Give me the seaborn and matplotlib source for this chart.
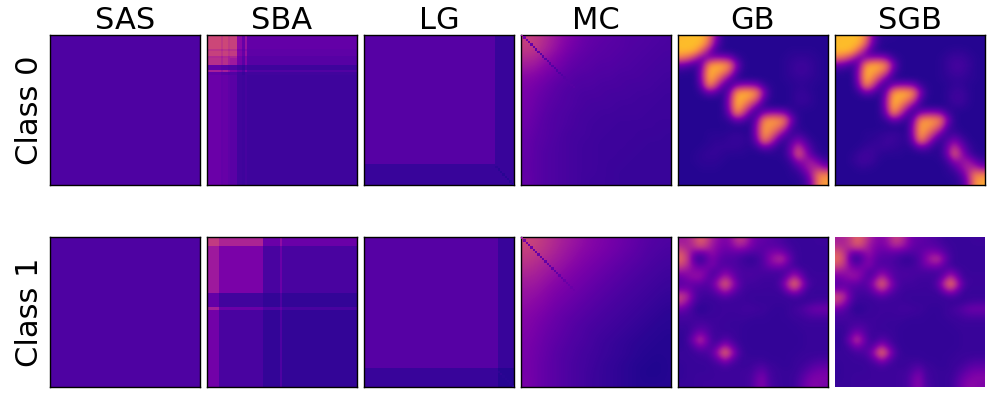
import numpy as np
import matplotlib
matplotlib.use("Agg")
import matplotlib.pyplot as plt
import seaborn as sns

METHODS = ["SAS", "SBA", "LG", "MC", "GB", "SGB"]
CLASSES = ["Class 0", "Class 1"]

SAS0 = [[13]]
SAS1 = [[13]]

# block panels: cell values (percent of colour scale) with row/column run lengths
SBA0_rows = [6, 1, 2, 1, 3, 2, 1, 1, 47]
SBA0_cols = [6, 1, 2, 1, 3, 2, 1, 1, 47]
SBA0 = [[50, 46, 50, 46, 48, 28, 19, 32, 18],
        [44, 40, 44, 40, 42, 24, 17, 28, 17],
        [48, 44, 48, 44, 46, 26, 19, 31, 17],
        [40, 36, 40, 36, 38, 22, 16, 25, 15],
        [42, 38, 42, 36, 34, 22, 16, 26, 15],
        [18, 16, 16, 14, 14, 10, 8, 13, 9],
        [36, 32, 36, 30, 24, 18, 13, 24, 14],
        [18, 16, 16, 14, 14, 10, 8, 11, 10],
        [20, 18, 19, 17, 16, 10, 9, 11, 9]]
SBA1_rows = [4, 20, 6, 1, 33]
SBA1_cols = [5, 19, 7, 1, 32]
SBA1 = [[46, 38, 20, 30, 20],
        [34, 24, 12, 20, 12],
        [18, 10, 7, 13, 7],
        [36, 20, 14, 18, 12],
        [22, 12, 7, 13, 7]]
LG0_rows = [55, 9]
LG0_cols = [56, 8]
LG0 = [[15, 8], [8, 8]]
LG0_diag = [None] * 56 + [6, 5, 5, 5, 5, 5, 5, 4]
LG1_rows = [56, 8]
LG1_cols = [57, 7]
LG1 = [[15, 8], [8, 4]]
LG1_diag = [None] * 57 + [6, 6, 5, 5, 5, 5, 5]

# smooth panels
MC0 = [[48, 46, 40, 34, 28, 24, 20, 18, 17, 16, 15, 14, 14, 13, 13, 12],
       [46, 44, 38, 32, 26, 22, 19, 17, 16, 15, 15, 14, 13, 13, 12, 12],
       [40, 38, 32, 27, 23, 19, 17, 16, 15, 15, 14, 13, 13, 12, 12, 11],
       [34, 32, 27, 24, 20, 17, 16, 15, 14, 14, 13, 13, 12, 12, 11, 11],
       [28, 26, 23, 20, 17, 15, 14, 14, 13, 13, 12, 12, 12, 11, 11, 10],
       [25, 23, 20, 17, 15, 14, 13, 13, 12, 12, 12, 11, 11, 11, 10, 10],
       [24, 21, 18, 16, 14, 13, 12, 12, 12, 11, 11, 11, 10, 10, 10, 9],
       [23, 20, 17, 15, 14, 13, 12, 11, 11, 11, 10, 10, 10, 10, 9, 9],
       [22, 19, 16, 14, 13, 12, 11, 11, 10, 10, 10, 10, 10, 9, 9, 9],
       [21, 18, 15, 14, 13, 12, 11, 10, 10, 10, 9, 9, 9, 9, 9, 9],
       [20, 17, 15, 14, 12, 11, 11, 10, 10, 9, 9, 9, 9, 9, 9, 8],
       [19, 16, 15, 13, 12, 11, 10, 10, 9, 9, 9, 9, 9, 8, 8, 8],
       [19, 16, 14, 13, 12, 11, 10, 10, 9, 9, 9, 9, 8, 8, 8, 8],
       [18, 16, 14, 13, 12, 11, 10, 10, 9, 9, 9, 8, 8, 8, 8, 8],
       [18, 16, 14, 13, 12, 11, 10, 10, 9, 9, 8, 8, 8, 8, 8, 8],
       [19, 16, 14, 13, 12, 11, 10, 9, 9, 9, 8, 8, 8, 8, 8, 8]]
MC0_diag = [32, 24, 22, 20, 19, 18, 17, 17, 16, 16, 16, 15, 15, 15, 14, 14,
            14, 14, 15, 15, 15, 15, 15]
MC1 = [[50, 48, 44, 40, 36, 33, 30, 27, 25, 23, 21, 19, 17, 15, 14, 13],
       [47, 45, 42, 38, 34, 31, 28, 26, 24, 22, 20, 18, 16, 14, 13, 12],
       [44, 42, 38, 35, 32, 29, 26, 24, 22, 20, 18, 16, 15, 13, 12, 11],
       [40, 38, 35, 32, 29, 26, 24, 22, 20, 18, 16, 15, 13, 12, 11, 10],
       [36, 35, 32, 29, 26, 24, 22, 20, 18, 16, 15, 13, 12, 11, 10, 9],
       [33, 32, 29, 26, 24, 22, 20, 18, 16, 15, 13, 12, 11, 10, 9, 8],
       [31, 29, 27, 24, 22, 20, 18, 16, 15, 13, 12, 11, 10, 9, 8, 7],
       [29, 27, 25, 22, 20, 18, 16, 15, 13, 12, 11, 10, 9, 8, 7, 6],
       [27, 25, 23, 20, 18, 16, 15, 13, 12, 11, 10, 9, 8, 7, 6, 5],
       [26, 24, 21, 19, 17, 15, 13, 12, 11, 10, 9, 8, 7, 6, 5, 5],
       [25, 23, 20, 18, 16, 14, 13, 11, 10, 9, 8, 7, 6, 5, 5, 4],
       [24, 22, 19, 17, 15, 13, 12, 11, 9, 8, 7, 6, 5, 5, 4, 4],
       [24, 21, 19, 16, 14, 13, 11, 10, 9, 8, 7, 6, 5, 4, 4, 4],
       [23, 21, 18, 16, 14, 12, 11, 10, 8, 7, 6, 5, 4, 4, 3, 4],
       [23, 21, 18, 16, 14, 12, 11, 9, 8, 7, 6, 5, 4, 3, 3, 4],
       [24, 21, 18, 16, 14, 12, 11, 9, 8, 7, 6, 5, 4, 4, 4, 4]]
MC1_diag = [34, 24, 22, 21, 20, 20, 19, 19, 18, 18, 18, 18, 18, 18, 18, 18,
            19, 19, 20, 20, 20, 20, 20]

GB0 = [[84, 86, 86, 84, 68, 28, 6, 4, 4, 4, 4, 4, 4, 4, 4, 4, 4, 4, 4, 4, 4, 4],
       [86, 86, 86, 82, 60, 20, 6, 4, 4, 4, 4, 4, 4, 4, 4, 4, 4, 4, 4, 4, 4, 4],
       [84, 85, 80, 58, 28, 9, 5, 4, 4, 4, 4, 4, 4, 4, 4, 4, 5, 5, 5, 5, 4, 4],
       [66, 58, 40, 20, 24, 30, 30, 26, 10, 5, 4, 4, 4, 4, 4, 5, 6, 7, 7, 6, 5, 4],
       [20, 16, 9, 22, 72, 82, 80, 70, 28, 6, 4, 4, 4, 4, 4, 5, 7, 9, 9, 7, 5, 4],
       [6, 5, 5, 30, 82, 80, 72, 54, 16, 5, 4, 4, 4, 4, 4, 5, 7, 9, 9, 7, 5, 4],
       [4, 4, 4, 30, 82, 70, 46, 20, 7, 4, 4, 4, 4, 4, 4, 5, 6, 7, 7, 6, 5, 4],
       [4, 4, 4, 22, 70, 48, 18, 8, 24, 30, 30, 26, 10, 5, 4, 4, 5, 6, 6, 5, 4, 4],
       [4, 4, 4, 8, 20, 16, 6, 22, 72, 82, 80, 70, 28, 6, 4, 4, 5, 7, 7, 5, 4, 4],
       [4, 4, 4, 4, 4, 4, 5, 30, 82, 80, 72, 54, 16, 5, 4, 4, 5, 8, 8, 6, 4, 4],
       [4, 4, 4, 4, 4, 4, 5, 30, 82, 70, 46, 20, 7, 4, 4, 4, 5, 6, 6, 5, 4, 4],
       [4, 4, 4, 4, 4, 4, 5, 22, 70, 48, 18, 8, 24, 30, 30, 26, 10, 5, 4, 4, 4, 4],
       [4, 4, 4, 4, 4, 4, 5, 8, 20, 16, 6, 22, 68, 76, 74, 66, 26, 6, 4, 4, 4, 4],
       [4, 4, 4, 4, 4, 4, 4, 4, 4, 4, 5, 30, 76, 74, 68, 50, 14, 6, 4, 4, 4, 4],
       [4, 4, 4, 4, 5, 5, 5, 6, 7, 6, 5, 30, 76, 66, 44, 20, 8, 10, 6, 4, 4, 4],
       [4, 4, 4, 4, 5, 6, 6, 7, 8, 7, 6, 22, 66, 46, 18, 7, 14, 24, 14, 6, 4, 4],
       [4, 4, 4, 5, 6, 7, 7, 7, 7, 6, 5, 8, 18, 15, 6, 6, 22, 45, 25, 10, 5, 4],
       [4, 4, 5, 6, 7, 7, 6, 5, 5, 5, 4, 4, 4, 5, 5, 6, 22, 58, 35, 15, 6, 5],
       [4, 4, 5, 6, 6, 6, 5, 4, 4, 4, 4, 4, 4, 4, 4, 5, 10, 30, 30, 34, 20, 10],
       [4, 4, 4, 5, 5, 5, 4, 4, 4, 4, 4, 4, 4, 4, 4, 4, 6, 12, 28, 38, 40, 28],
       [4, 4, 4, 4, 4, 4, 4, 4, 4, 4, 4, 4, 4, 4, 4, 4, 5, 6, 14, 36, 68, 70],
       [4, 4, 4, 4, 4, 4, 4, 4, 4, 4, 4, 4, 4, 4, 4, 4, 4, 5, 8, 28, 70, 78]]
SGB0 = [[84, 86, 86, 84, 68, 26, 7, 5, 5, 4, 4, 4, 4, 4, 4, 4, 4, 4, 4, 4, 4, 4],
        [86, 86, 86, 82, 58, 20, 6, 4, 4, 4, 4, 4, 4, 4, 4, 4, 4, 4, 4, 4, 4, 4],
        [84, 85, 80, 56, 28, 9, 5, 4, 4, 4, 4, 4, 4, 4, 4, 4, 5, 6, 6, 5, 4, 4],
        [64, 56, 40, 20, 24, 30, 32, 26, 10, 5, 4, 4, 4, 4, 4, 5, 7, 9, 9, 7, 5, 4],
        [20, 16, 9, 22, 72, 82, 80, 70, 28, 6, 4, 4, 4, 4, 4, 5, 8, 11, 11, 8, 5, 4],
        [6, 5, 5, 30, 82, 80, 72, 54, 16, 5, 4, 4, 4, 4, 4, 5, 7, 10, 10, 7, 5, 4],
        [4, 4, 4, 30, 82, 70, 46, 20, 7, 4, 4, 4, 4, 4, 4, 5, 6, 7, 7, 6, 5, 4],
        [4, 4, 4, 22, 70, 48, 18, 8, 24, 30, 30, 26, 10, 5, 4, 4, 5, 7, 7, 5, 4, 4],
        [4, 4, 4, 8, 20, 16, 6, 22, 72, 82, 80, 70, 28, 6, 4, 4, 6, 9, 9, 6, 4, 4],
        [4, 4, 4, 4, 4, 4, 5, 30, 82, 80, 72, 54, 16, 5, 4, 4, 6, 10, 10, 6, 4, 4],
        [4, 4, 4, 4, 4, 4, 5, 30, 82, 70, 46, 20, 7, 4, 4, 4, 5, 7, 7, 5, 4, 4],
        [4, 4, 4, 4, 4, 4, 5, 22, 70, 48, 18, 8, 24, 30, 30, 26, 10, 5, 4, 4, 4, 4],
        [4, 4, 4, 4, 4, 4, 5, 8, 20, 16, 6, 22, 70, 76, 74, 66, 26, 6, 4, 4, 4, 4],
        [4, 4, 4, 4, 4, 4, 4, 4, 4, 4, 5, 30, 78, 76, 68, 50, 14, 6, 4, 4, 4, 4],
        [4, 4, 4, 4, 5, 5, 6, 7, 8, 7, 5, 30, 78, 66, 44, 20, 8, 10, 6, 4, 4, 4],
        [4, 4, 4, 4, 5, 6, 7, 9, 9, 7, 6, 22, 68, 46, 18, 7, 14, 24, 14, 6, 4, 4],
        [4, 4, 4, 5, 7, 8, 8, 8, 7, 6, 5, 8, 18, 15, 6, 6, 22, 45, 25, 10, 5, 4],
        [4, 4, 5, 8, 10, 9, 6, 5, 5, 5, 4, 4, 4, 5, 5, 6, 22, 58, 35, 15, 6, 5],
        [4, 4, 6, 9, 10, 8, 5, 4, 4, 4, 4, 4, 4, 4, 4, 5, 10, 30, 30, 34, 20, 10],
        [4, 4, 4, 6, 6, 5, 4, 4, 4, 4, 4, 4, 4, 4, 4, 4, 6, 12, 28, 38, 40, 28],
        [4, 4, 4, 4, 4, 4, 4, 4, 4, 4, 4, 4, 4, 4, 4, 4, 5, 6, 14, 36, 68, 70],
        [4, 4, 4, 4, 4, 4, 4, 4, 4, 4, 4, 4, 4, 4, 4, 4, 4, 5, 8, 28, 72, 80]]

GB1 = [[34, 36, 44, 58, 50, 36, 28, 24, 30, 44, 42, 28, 20, 18, 16, 14, 12, 9, 8, 8, 8, 8, 9, 9],
       [40, 36, 42, 50, 44, 32, 26, 22, 26, 34, 32, 24, 18, 16, 16, 16, 14, 11, 9, 8, 8, 8, 8, 8],
       [54, 42, 24, 20, 24, 30, 22, 18, 18, 18, 16, 14, 14, 16, 22, 26, 24, 16, 10, 8, 8, 8, 8, 8],
       [60, 46, 16, 7, 16, 24, 18, 14, 14, 12, 9, 7, 9, 14, 26, 36, 40, 24, 11, 8, 8, 8, 8, 8],
       [50, 40, 24, 16, 20, 24, 16, 14, 14, 12, 10, 9, 10, 14, 22, 26, 26, 16, 10, 8, 8, 8, 8, 8],
       [32, 30, 28, 28, 24, 14, 16, 24, 18, 14, 12, 12, 12, 12, 12, 12, 12, 14, 22, 14, 9, 8, 8, 8],
       [20, 26, 30, 30, 20, 14, 26, 38, 28, 14, 12, 12, 11, 10, 10, 10, 12, 26, 40, 26, 10, 9, 9, 9],
       [16, 18, 18, 18, 14, 20, 38, 60, 38, 20, 11, 10, 10, 9, 9, 9, 18, 40, 66, 40, 16, 9, 9, 9],
       [26, 26, 16, 12, 12, 14, 26, 38, 26, 14, 10, 9, 9, 9, 9, 9, 11, 26, 38, 24, 10, 8, 8, 8],
       [48, 38, 18, 10, 9, 10, 12, 16, 12, 10, 9, 8, 8, 8, 8, 8, 8, 9, 12, 10, 8, 8, 8, 8],
       [40, 28, 14, 8, 8, 8, 9, 9, 9, 9, 9, 9, 8, 8, 8, 8, 8, 8, 8, 8, 9, 11, 12, 12],
       [22, 16, 9, 5, 7, 8, 9, 9, 9, 9, 10, 10, 10, 9, 8, 7, 7, 8, 10, 12, 16, 20, 21, 21],
       [12, 12, 10, 8, 8, 9, 9, 9, 9, 9, 9, 9, 8, 8, 7, 7, 7, 8, 9, 10, 12, 14, 14, 14],
       [10, 10, 10, 11, 10, 9, 9, 9, 8, 8, 8, 7, 7, 7, 7, 7, 7, 7, 8, 8, 9, 9, 9, 9],
       [8, 8, 12, 14, 14, 10, 9, 8, 8, 8, 7, 7, 7, 7, 7, 7, 7, 7, 7, 8, 8, 8, 8, 8],
       [7, 8, 16, 26, 18, 10, 9, 10, 9, 8, 7, 7, 7, 7, 7, 7, 7, 7, 7, 7, 8, 8, 8, 8],
       [6, 10, 24, 42, 26, 11, 10, 16, 12, 8, 7, 7, 7, 7, 7, 7, 7, 7, 7, 7, 8, 8, 8, 8],
       [7, 8, 14, 24, 18, 12, 22, 36, 22, 11, 7, 7, 7, 7, 7, 7, 7, 7, 7, 7, 8, 8, 8, 8],
       [8, 8, 9, 11, 12, 18, 38, 64, 38, 16, 8, 7, 7, 7, 7, 7, 7, 7, 7, 8, 8, 8, 8, 8],
       [8, 8, 8, 9, 9, 12, 22, 36, 22, 11, 8, 8, 8, 8, 7, 7, 7, 7, 8, 8, 9, 10, 11, 11],
       [7, 8, 8, 8, 8, 9, 10, 14, 10, 9, 8, 9, 11, 12, 9, 8, 7, 7, 8, 9, 11, 14, 16, 16],
       [7, 8, 8, 8, 8, 9, 9, 9, 9, 9, 10, 10, 15, 18, 11, 9, 8, 8, 8, 11, 15, 20, 22, 22],
       [7, 8, 8, 9, 9, 9, 9, 9, 9, 9, 10, 11, 19, 24, 12, 9, 8, 8, 9, 13, 20, 24, 25, 25],
       [8, 8, 8, 9, 9, 9, 9, 9, 9, 9, 10, 11, 20, 25, 13, 10, 8, 8, 9, 15, 22, 26, 25, 23]]
SGB1 = [[36, 38, 46, 60, 52, 38, 28, 26, 32, 46, 44, 30, 20, 18, 16, 14, 12, 9, 8, 8, 8, 8, 9, 9],
        [42, 38, 44, 52, 46, 32, 26, 22, 28, 36, 34, 26, 18, 16, 16, 16, 14, 11, 9, 8, 8, 8, 8, 8],
        [56, 44, 24, 20, 26, 32, 22, 18, 18, 18, 16, 14, 14, 16, 22, 26, 24, 16, 10, 8, 8, 8, 8, 8],
        [62, 48, 16, 7, 18, 26, 18, 14, 14, 12, 9, 7, 9, 14, 26, 38, 42, 24, 11, 8, 8, 8, 8, 8],
        [52, 42, 24, 16, 22, 26, 16, 14, 14, 12, 10, 9, 10, 14, 22, 26, 26, 16, 10, 8, 8, 8, 8, 8],
        [34, 32, 30, 28, 24, 14, 16, 24, 18, 14, 12, 12, 12, 12, 12, 12, 12, 14, 22, 14, 9, 8, 8, 8],
        [22, 26, 30, 30, 20, 14, 26, 40, 28, 14, 12, 12, 11, 10, 10, 10, 12, 26, 42, 26, 10, 9, 9, 9],
        [16, 18, 18, 18, 14, 20, 38, 62, 38, 20, 11, 10, 10, 9, 9, 9, 18, 42, 68, 40, 16, 9, 9, 9],
        [26, 26, 16, 12, 12, 14, 26, 38, 26, 14, 10, 9, 9, 9, 9, 9, 11, 26, 38, 24, 10, 8, 8, 8],
        [50, 40, 18, 10, 9, 10, 12, 16, 12, 10, 9, 8, 8, 8, 8, 8, 8, 9, 12, 10, 8, 8, 8, 8],
        [42, 30, 14, 8, 8, 8, 9, 9, 9, 9, 9, 9, 8, 8, 8, 8, 8, 8, 8, 8, 9, 11, 12, 12],
        [22, 16, 9, 5, 7, 8, 9, 9, 9, 9, 10, 10, 10, 9, 8, 7, 7, 8, 10, 12, 16, 20, 21, 21],
        [12, 12, 10, 8, 8, 9, 9, 9, 9, 9, 9, 9, 8, 8, 7, 7, 7, 8, 9, 10, 12, 14, 14, 14],
        [10, 10, 10, 11, 10, 9, 9, 9, 8, 8, 8, 7, 7, 7, 7, 7, 7, 7, 8, 8, 9, 9, 9, 9],
        [8, 8, 12, 14, 14, 10, 9, 8, 8, 8, 7, 7, 7, 7, 7, 7, 7, 7, 7, 8, 8, 8, 8, 8],
        [7, 8, 16, 28, 18, 10, 9, 10, 9, 8, 7, 7, 7, 7, 7, 7, 7, 7, 7, 7, 8, 8, 8, 8],
        [6, 10, 24, 44, 26, 11, 10, 16, 12, 8, 7, 7, 7, 7, 7, 7, 7, 7, 7, 7, 8, 8, 8, 8],
        [7, 8, 14, 24, 18, 12, 22, 36, 22, 11, 7, 7, 7, 7, 7, 7, 7, 7, 7, 7, 8, 8, 8, 8],
        [8, 8, 9, 11, 12, 18, 38, 66, 38, 16, 8, 7, 7, 7, 7, 7, 7, 7, 7, 8, 8, 8, 8, 8],
        [8, 8, 8, 9, 9, 12, 22, 36, 22, 11, 8, 8, 8, 8, 7, 7, 7, 7, 8, 8, 9, 10, 11, 11],
        [7, 8, 8, 8, 8, 9, 10, 14, 10, 9, 8, 9, 11, 12, 9, 8, 7, 7, 8, 9, 11, 14, 16, 16],
        [7, 8, 8, 8, 8, 9, 9, 9, 9, 9, 10, 10, 15, 20, 11, 9, 8, 8, 8, 11, 15, 20, 22, 22],
        [7, 8, 8, 9, 9, 9, 9, 9, 9, 9, 10, 11, 20, 26, 12, 9, 8, 8, 9, 13, 20, 24, 27, 27],
        [8, 8, 8, 9, 9, 9, 9, 9, 9, 9, 10, 11, 21, 27, 13, 10, 8, 8, 9, 15, 23, 28, 27, 25]]


def blocks(cells, rows, cols):
    return np.repeat(np.repeat(np.array(cells, float), rows, axis=0), cols, axis=1) / 100.0


PANELS = [
    [dict(data=blocks(SAS0, [64], [64])),
     dict(data=blocks(SBA0, SBA0_rows, SBA0_cols)),
     dict(data=blocks(LG0, LG0_rows, LG0_cols), diag=LG0_diag),
     dict(data=np.array(MC0) / 100.0, smooth=True, diag=MC0_diag),
     dict(data=np.array(GB0) / 100.0, smooth=True),
     dict(data=np.array(SGB0) / 100.0, smooth=True)],
    [dict(data=blocks(SAS1, [64], [64])),
     dict(data=blocks(SBA1, SBA1_rows, SBA1_cols)),
     dict(data=blocks(LG1, LG1_rows, LG1_cols), diag=LG1_diag),
     dict(data=np.array(MC1) / 100.0, smooth=True, diag=MC1_diag),
     dict(data=np.array(GB1) / 100.0, smooth=True),
     dict(data=np.array(SGB1) / 100.0, smooth=True, frameless=True)],
]

W, H = 1000, 397
X0 = [50.0, 207.0, 364.0, 521.0, 678.0, 835.0]
Y0 = [35.0, 237.0]
SIZE = 150

sns.set_theme(style="white")
plt.rcParams["font.family"] = ["DejaVu Sans"]
fig = plt.figure(figsize=(W / 100, H / 100), dpi=100)

for r, row in enumerate(PANELS):
    for c, p in enumerate(row):
        ax = fig.add_axes([X0[c] / W, 1 - (Y0[r] + SIZE) / H, SIZE / W, SIZE / H])
        m = p["data"]
        n = m.shape[0]
        sns.heatmap(m, ax=ax, cmap="plasma", vmin=0, vmax=1, cbar=False,
                    xticklabels=False, yticklabels=False, rasterized=True)
        if p.get("smooth"):
            ax.imshow(m, extent=(0, n, n, 0), aspect="auto", cmap="plasma", vmin=0, vmax=1,
                      interpolation="bicubic", zorder=2)
        if p.get("diag") is not None:
            line = np.full((64, 64), np.nan)
            for i, v in enumerate(p["diag"]):
                if v is not None:
                    line[i, i] = v / 100.0
            ax.imshow(np.ma.masked_invalid(line), extent=(0, n, n, 0), aspect="auto",
                      cmap="plasma", vmin=0, vmax=1, interpolation="nearest", zorder=3)
        ax.set_xlim(0, n)
        ax.set_ylim(n, 0)
        for s in ax.spines.values():
            s.set_visible(not p.get("frameless", False))
            s.set_color("black")
            s.set_linewidth(1.0)
        if r == 0:
            ax.set_title(METHODS[c], fontsize=22, color="black", pad=4.5)
        if c == 0:
            ax.set_ylabel(CLASSES[r], fontsize=22, color="black", labelpad=4.5)

fig.savefig("out.png", dpi=100, facecolor="white")
